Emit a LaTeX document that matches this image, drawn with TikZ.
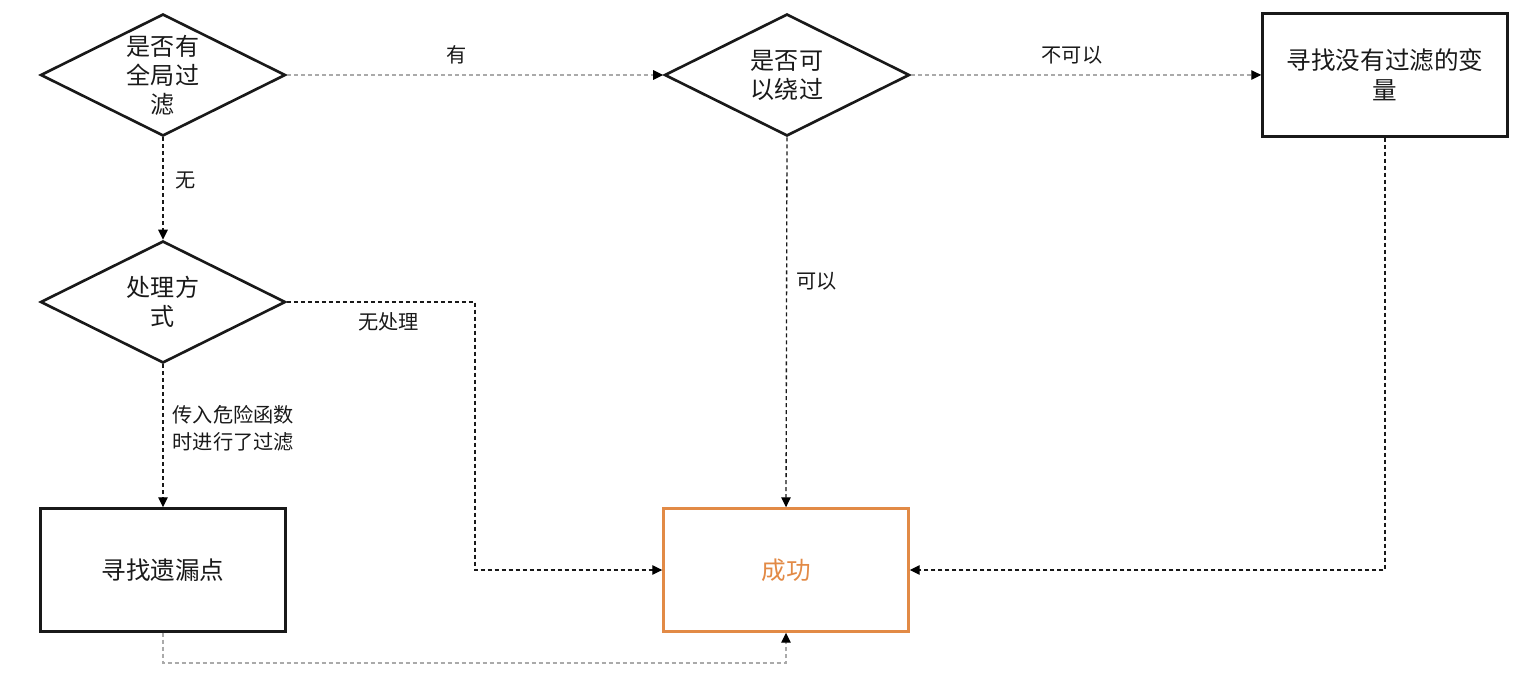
\documentclass[tikz,border=0pt]{standalone}
\usepackage{fontspec}
\setmainfont{Noto Sans CJK SC}
\usetikzlibrary{shapes.geometric,arrows.meta}
\definecolor{ink}{RGB}{25,25,25}
\definecolor{succ}{RGB}{226,138,70}
\definecolor{lightdash}{RGB}{170,170,170}
\begin{document}
\begin{tikzpicture}[x=0.02cm,y=-0.02cm,
  dec/.style={diamond,draw=ink,line width=1.5pt,minimum width=4.9cm,minimum height=2.44cm,inner sep=0pt,aspect=2},
  box/.style={rectangle,draw=ink,line width=1.4pt,minimum width=4.9cm,minimum height=2.46cm,align=center,font=\fontsize{14}{17}\selectfont,text=ink},
  dtext/.style={align=center,font=\fontsize{13.7}{16.5}\selectfont,text=ink},
  conn/.style={draw=ink,line width=0.75pt,dash pattern=on 0.08cm off 0.06cm,-{Triangle[length=0.2cm,width=0.19cm,color=black]}},
  lab/.style={font=\fontsize{11.5}{15.3}\selectfont,text=ink,align=left,inner sep=0pt}]
\useasboundingbox (0,0) rectangle (1537,688);

\node[dec] (d1) at (163,75) {};
\node[dtext] (d1t) at (d1) {是否有\\全局过\\滤};
\node[dec] (d2) at (787,75) {};
\node[dtext] (d2t) at (d2) {是否可\\以绕过};
\node[box] (b3) at (1385,75) {寻找没有过滤的变\\量};
\node[dec] (d4) at (163,302) {};
\node[dtext] (d4t) at (d4) {处理方\\式};
\node[box] (b5) at (163,570) {寻找遗漏点};
\node[box,draw=succ,text=succ] (s) at (786,570) {成功};

\coordinate (k1) at (475,302);
\coordinate (k2) at (475,663);

\draw[conn,draw=lightdash] (d1.east) -- node[lab,pos=0.45,above=0.2cm] {有} (d2.west);
\draw[conn,draw=lightdash] (d2.east) -- node[lab,pos=0.46,above=0.2cm] {不可以} (b3.west);
\draw[conn] (d1.south) -- node[lab,pos=0.42,right=0.24cm] {无} (d4.north);
\draw[conn] (d2.south) -- node[lab,pos=0.39,right=0.18cm] {可以} (s.north);
\draw[conn] (b3.south) |- (s.east);
\draw[conn] (d4.east) -- node[lab,pos=0.54,below=0.2cm] {无处理} (k1) |- (s.west);
\draw[conn] (d4.south) -- node[lab,pos=0.45,right=0.18cm] {传入危险函数\\时进行了过滤} (b5.north);
\draw[conn,draw=lightdash] (b5.south) |- (k2) -| (s.south);
\end{tikzpicture}
\end{document}
